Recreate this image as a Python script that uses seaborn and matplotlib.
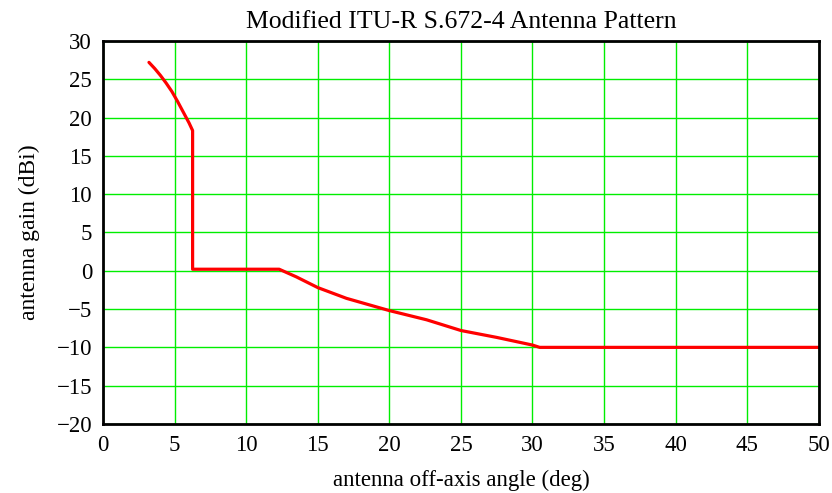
import numpy as np
import pandas as pd
import matplotlib
matplotlib.use("Agg")
import matplotlib.pyplot as plt
import seaborn as sns

# Values
angle_deg = [3.2, 3.6, 4.0, 4.4, 4.8, 5.2, 5.6, 6.0, 6.25, 6.25, 12.3, 13.5, 15.0,
             17.0, 20.0, 22.6, 25.0, 27.5, 30.0, 30.5, 50.0]
gain_dbi = [27.2, 26.4, 25.5, 24.5, 23.4, 22.1, 20.7, 19.3, 18.3, 0.2, 0.2, -0.8, -2.2,
            -3.6, -5.2, -6.4, -7.8, -8.7, -9.7, -10.0, -10.0]
x_ticks = [0, 5, 10, 15, 20, 25, 30, 35, 40, 45, 50]
y_ticks = [-20, -15, -10, -5, 0, 5, 10, 15, 20, 25, 30]

df = pd.DataFrame({"angle": angle_deg, "gain": gain_dbi})

sns.set_theme(style="white")
plt.rcParams["font.family"] = ["Liberation Serif", "DejaVu Serif"]
plt.rcParams["text.color"] = "black"
plt.rcParams["axes.labelcolor"] = "black"
plt.rcParams["xtick.color"] = "black"
plt.rcParams["ytick.color"] = "black"

fig = plt.figure(figsize=(8.32, 4.93), dpi=100)
ax = fig.add_axes([0.124, 0.140, 0.860, 0.777])

sns.lineplot(data=df, x="angle", y="gain", sort=False, estimator=None,
             color="#ff0000", linewidth=2.3, ax=ax, zorder=3)

ax.set_xlim(0, 50)
ax.set_ylim(-20, 30)
ax.set_xticks(x_ticks)
ax.set_yticks(y_ticks)
ax.grid(True, color="#00ee00", linewidth=1.0)
ax.tick_params(length=0, labelsize=16.5, pad=8)
for s in ax.spines.values():
    s.set_color("black")
    s.set_linewidth(2.0)
    s.set_zorder(4)

ax.set_title("Modified ITU-R S.672-4 Antenna Pattern", fontsize=18.5, pad=9)
ax.set_xlabel("antenna off-axis angle (deg)", fontsize=16.5, labelpad=10)
ax.set_ylabel("antenna gain (dBi)", fontsize=17, labelpad=12)

fig.savefig("out.png", dpi=100)
